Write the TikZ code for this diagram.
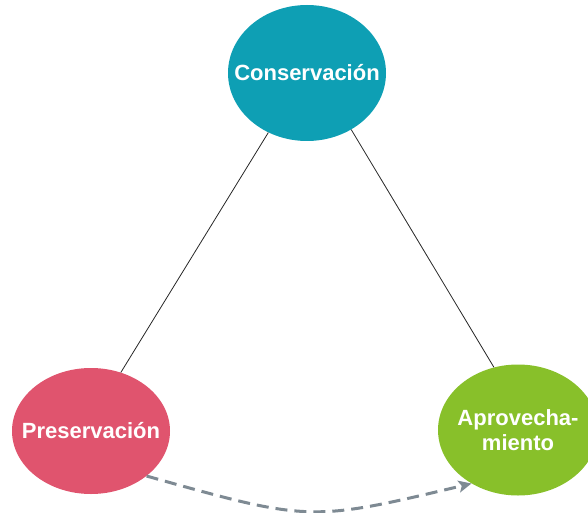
\documentclass[tikz,border=0pt]{standalone}
\usepackage{fontspec}
\setmainfont{Liberation Sans}
\usetikzlibrary{shapes.geometric,arrows.meta}
\definecolor{consfill}{HTML}{0E9FB4}
\definecolor{presfill}{HTML}{E0546E}
\definecolor{aprofill}{HTML}{88C02A}
\definecolor{arrowgray}{HTML}{7E8A93}

\begin{document}
\begin{tikzpicture}[x=1pt,y=-1pt,
    bubble/.style={ellipse, inner sep=0pt},
    bubbletext/.style={text=white, align=center, inner sep=0pt,
      font=\bfseries\fontsize{22}{24.5}\selectfont}]
            \useasboundingbox (0,0) rectangle (588,513);
            \node [bubble, fill=consfill, minimum width=158pt, minimum height=136pt,
                   label={[bubbletext]center:Conservación}] (cons) at (307,73) {};
            \node [bubble, fill=presfill, minimum width=158pt, minimum height=126pt,
                   label={[bubbletext]center:Preservación}] (pres) at (91,431) {};
            \node [bubble, fill=aprofill, minimum width=160pt, minimum height=131pt,
                   label={[bubbletext]center:Aprovecha-\\miento}] (apro) at (518,430) {};
            \draw [black!85, line width=0.8pt] (cons.-123) -- (pres.63);
            \draw [black!85, line width=0.8pt] (cons.-52) -- (apro.111);
            \draw [arrowgray, line width=3pt, dash pattern=on 12pt off 7pt, -{Stealth[length=13pt,width=12pt,inset=3pt]}] (pres.-39) .. controls (310,522) .. (apro.-131);
        \end{tikzpicture}
\end{document}
